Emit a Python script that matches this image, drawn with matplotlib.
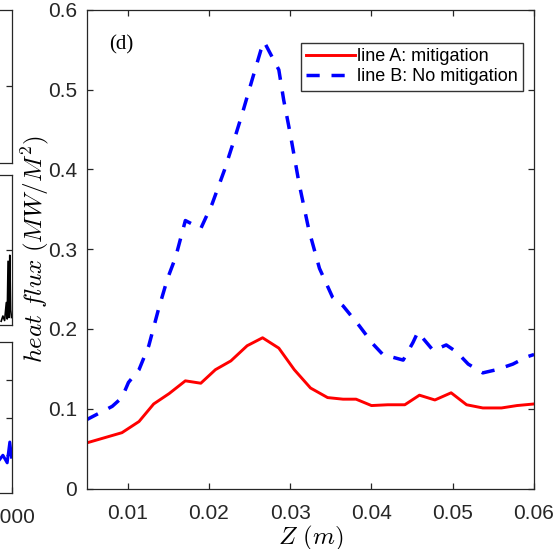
#!/usr/bin/env python3

# ========================================================================
#
# Imports
#
# ========================================================================
import numpy as np
import matplotlib as mpl
mpl.use('Agg')
import matplotlib.pyplot as plt

# ========================================================================
#
# Defaults
#
# ========================================================================
plt.rc('font', family='Liberation Sans')
plt.rc('mathtext', fontset='cm')
plt.rc('lines', scale_dashes=False)
grey = '#262626'

# ========================================================================
#
# Data
#
# ========================================================================
# line A: mitigation
z_a = [0.0049, 0.0093, 0.0114, 0.0132, 0.0151, 0.0171, 0.0190, 0.0208,
       0.0227, 0.0247, 0.0266, 0.0286, 0.0305, 0.0325, 0.0346, 0.0365,
       0.0381, 0.0400, 0.0420, 0.0441, 0.0459, 0.0478, 0.0498, 0.0517,
       0.0537, 0.0560, 0.0579, 0.0600]
q_a = [0.057, 0.070, 0.084, 0.106, 0.119, 0.135, 0.132, 0.149,
       0.160, 0.179, 0.189, 0.176, 0.149, 0.126, 0.114, 0.112,
       0.112, 0.104, 0.105, 0.105, 0.117, 0.111, 0.120, 0.105,
       0.101, 0.101, 0.104, 0.106]

# line B: No mitigation
z_b = [0.0049, 0.0081, 0.0093, 0.0101, 0.0114, 0.0126, 0.0138, 0.0149,
       0.0159, 0.0171, 0.0190, 0.0204, 0.0219, 0.0231, 0.0241, 0.0253,
       0.0264, 0.0268, 0.0286, 0.0292, 0.0300, 0.0311, 0.0323, 0.0336,
       0.0352, 0.0365, 0.0385, 0.0402, 0.0414, 0.0439, 0.0451, 0.0457,
       0.0476, 0.0492, 0.0505, 0.0519, 0.0537, 0.0554, 0.0574, 0.0591,
       0.0600]
q_b = [0.086, 0.103, 0.114, 0.133, 0.149, 0.179, 0.225, 0.263,
       0.290, 0.336, 0.326, 0.357, 0.399, 0.437, 0.470, 0.512,
       0.550, 0.560, 0.525, 0.487, 0.445, 0.382, 0.324, 0.276,
       0.240, 0.229, 0.204, 0.181, 0.168, 0.161, 0.183, 0.196,
       0.173, 0.180, 0.171, 0.156, 0.145, 0.149, 0.156, 0.165,
       0.168]

# neighbouring panels (only their right edges are visible)
t_spike = [3880, 3900, 3920, 3940, 3950, 3960, 3970, 3980, 3990, 4000]
v_spike = [0.05, 0.12, 0.06, 0.30, 0.08, 0.85, 0.10, 0.93, 0.20, 0.10]
t_blue = [3800, 3850, 3900, 3950, 3980, 4000]
v_blue = [1.10, 0.85, 1.00, 0.80, 1.35, 0.95]

# ========================================================================
#
# Plot
#
# ========================================================================
fig = plt.figure(figsize=(5.56, 5.49), dpi=100)

# Partial panels on the left edge
panels = [(0.703, 0.279), (0.408, 0.273), (0.102, 0.275)]
for k, (b, h) in enumerate(panels):
    pax = fig.add_axes([-0.6, b, 0.6207, h])
    pax.set_xlim(0, 4000)
    if k == 2:
        pax.set_ylim(0, 4)
        pax.set_yticks([1, 2, 3])
        pax.set_xticks([4000])
        pax.plot(t_blue, v_blue, color='b', lw=2.2)
    else:
        pax.set_ylim(0, 2)
        pax.set_yticks([1])
        pax.set_xticks([])
        if k == 1:
            pax.plot(t_spike, v_spike, color='k', lw=1.2)
    pax.tick_params(direction='in', right=True, left=False, length=4,
                    labelleft=False, labelsize=15, colors=grey,
                    width=0.9)
    pax.tick_params(axis='x', pad=11)
    for s in pax.spines.values():
        s.set_color(grey)
        s.set_linewidth(0.9)

ax = fig.add_axes([0.1565, 0.1102, 0.804, 0.8716])
ax.plot(z_a, q_a, color='#ff0000', lw=2.1, label='line A: mitigation')
ax.plot(z_b, q_b, color='#0000ff', lw=2.5, dashes=(9.5, 8.5),
        label='line B: No mitigation')

ax.set_xlim(0.005, 0.06)
ax.set_ylim(0, 0.6)
ax.set_xticks([0.01, 0.02, 0.03, 0.04, 0.05, 0.06])
ax.set_xticklabels(['0.01', '0.02', '0.03', '0.04', '0.05', '0.06'])
ax.set_yticks([0, 0.1, 0.2, 0.3, 0.4, 0.5, 0.6])
ax.set_yticklabels(['0', '0.1', '0.2', '0.3', '0.4', '0.5', '0.6'])
ax.tick_params(direction='in', top=True, right=True, length=4,
               width=0.9, labelsize=15, colors=grey, pad=7)
ax.tick_params(axis='x', pad=11)
for s in ax.spines.values():
    s.set_color(grey)
    s.set_linewidth(0.9)

ax.set_xlabel(r'$Z\ (m)$', fontsize=18, labelpad=1)
ax.set_ylabel(r'$heat\ flux\ (MW/M^2)$', fontsize=18, labelpad=-2)

ax.text(0.05, 0.927, '(d)', transform=ax.transAxes, fontsize=15,
        family='Liberation Serif', va='center')

leg = ax.legend(loc='upper right', bbox_to_anchor=(0.975, 0.931),
                fontsize=13, fancybox=False, handlelength=2.7,
                handletextpad=0.1, borderpad=0.3, labelspacing=0.15,
                borderaxespad=0.0)
leg.get_frame().set_edgecolor('k')
leg.get_frame().set_linewidth(1.0)

fig.savefig('out.png', dpi=100)
